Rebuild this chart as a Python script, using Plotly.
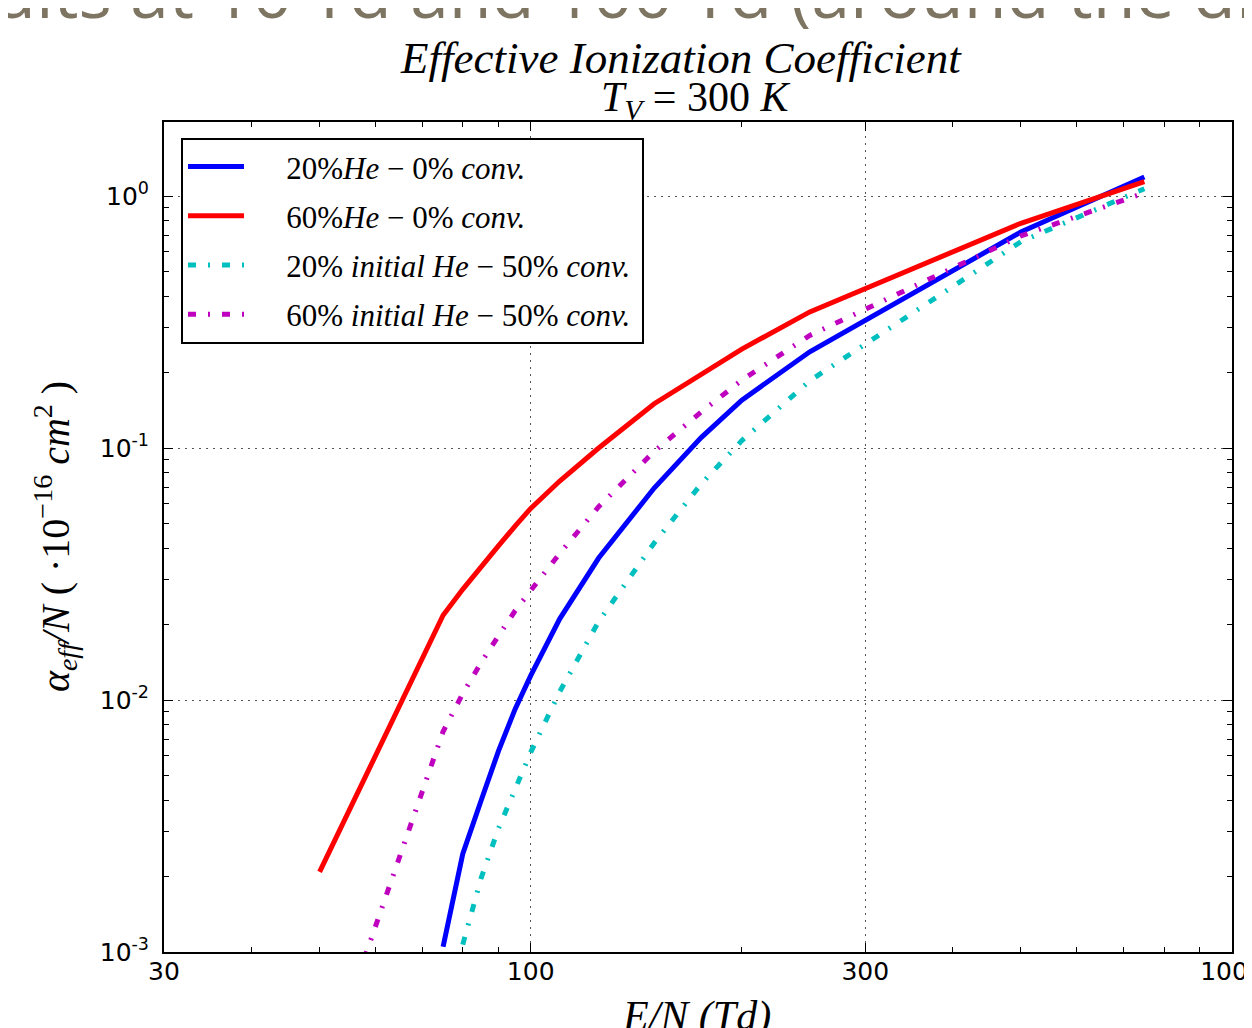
import plotly.graph_objects as go

# ---- data ----
en_blue = [75, 80, 85, 90, 95, 100, 110, 125, 150, 175, 200, 250, 500, 750]
alpha_blue = [0.00105, 0.00245, 0.0040, 0.0063, 0.0092, 0.0125, 0.021, 0.0366, 0.0694, 0.110, 0.155, 0.241, 0.72, 1.19]

en_red = [50, 75, 80, 85, 90, 95, 100, 110, 125, 150, 175, 200, 250, 500, 750]
alpha_red = [0.00208, 0.0217, 0.0275, 0.0340, 0.0410, 0.049, 0.0576, 0.074, 0.100, 0.150, 0.197, 0.247, 0.347, 0.78, 1.14]

en_cyan = [80, 85, 90, 95, 100, 110, 125, 150, 175, 200, 250, 500, 750]
alpha_cyan = [0.00107, 0.00197, 0.0031, 0.00446, 0.0062, 0.0108, 0.0205, 0.042, 0.072, 0.107, 0.185, 0.659, 1.07]

en_mag = [50, 75, 80, 85, 90, 95, 100, 110, 125, 150, 175, 200, 250, 500, 750]
alpha_mag = [0.00029, 0.0075, 0.0106, 0.0141, 0.018, 0.0226, 0.0272, 0.0382, 0.0585, 0.097, 0.139, 0.186, 0.28, 0.695, 1.03]

series_names = [
    "20%<i>He</i> − 0% <i>conv.</i>",
    "60%<i>He</i> − 0% <i>conv.</i>",
    "20% <i>initial He</i> − 50% <i>conv.</i>",
    "60% <i>initial He</i> − 50% <i>conv.</i>",
]

x_tickvals = [30, 100, 300, 1000]
x_ticktext = ["30", "100", "300", "1000"]
y_tickvals = [0.001, 0.01, 0.1, 1]
y_ticktext = ["10<sup>-3</sup>", "10<sup>-2</sup>", "10<sup>-1</sup>", "10<sup>0</sup>"]
x_minor = [40, 50, 60, 70, 80, 90, 200, 400, 500, 600, 700, 800, 900]
y_minor = [m * d for d in (0.001, 0.01, 0.1, 1) for m in range(2, 10)]

SERIF = "Liberation Serif"
SANS = "DejaVu Sans"
DASHDOT = "8px,12px,2px,12px"

fig = go.Figure()
specs = [
    (en_blue, alpha_blue, "#0000ff", "solid"),
    (en_red, alpha_red, "#ff0000", "solid"),
    (en_cyan, alpha_cyan, "#00bfbf", DASHDOT),
    (en_mag, alpha_mag, "#bf00bf", DASHDOT),
]
for i, ((xs, ys, col, dash), name) in enumerate(zip(specs, series_names)):
    fig.add_trace(go.Scatter(
        x=xs, y=ys, mode="lines", name="\u2002\u2002\u2009" + name + "\u2009",
        legendgroup=f"g{i}",
        line=dict(color=col, width=5, dash=dash),
    ))

axis_common = dict(
    type="log", showline=True, linecolor="black", linewidth=2, mirror="allticks",
    ticks="inside", ticklen=9, tickwidth=1.2, tickcolor="black",
    showgrid=True, gridcolor="#555555", gridwidth=1, griddash="2px,5px",
    zeroline=False, tickfont=dict(family=SANS, size=25, color="black"),
    tickmode="array", ticklabeloverflow="allow", automargin=False,
)
fig.update_xaxes(
    **axis_common, range=[1.4771, 3.0], tickvals=x_tickvals, ticktext=x_ticktext,
    ticklabelstandoff=-4,
    minor=dict(tickvals=x_minor, ticks="inside", ticklen=5, tickcolor="black", showgrid=False),
)
fig.update_yaxes(
    **axis_common, range=[-3.0, 0.294], tickvals=y_tickvals, ticktext=y_ticktext,
    ticklabelstandoff=8,
    minor=dict(tickvals=y_minor, ticks="inside", ticklen=5, tickcolor="black", showgrid=False),
)

fig.update_layout(
    width=1252, height=1028,
    margin=dict(l=156, r=28, t=114, b=84, autoexpand=False),
    paper_bgcolor="white", plot_bgcolor="white",
    showlegend=True,
    legend=dict(
        x=0.0159, y=0.981, xanchor="left", yanchor="top",
        bgcolor="white", bordercolor="black", borderwidth=2,
        font=dict(family=SERIF, size=31, color="black"),
        tracegroupgap=6, itemwidth=56,
    ),
    annotations=[
        dict(text="ults at 10 Td and 100 Td (around the di", xref="paper", yref="paper",
             x=-0.162, y=1.098, xanchor="left", yanchor="bottom", showarrow=False,
             font=dict(family="Open Sans", size=70, color="#7d7461")),
        dict(text="<i>Effective Ionization Coefficient</i>", xref="paper", yref="paper",
             x=0.484, y=1.077, xanchor="center", yanchor="middle", showarrow=False,
             font=dict(family=SERIF, size=45, color="black")),
        dict(text="<i>T</i><sub><i>V</i></sub> = 300 <i>K</i>", xref="paper", yref="paper",
             x=0.498, y=1.026, xanchor="center", yanchor="middle", showarrow=False,
             font=dict(family=SERIF, size=42, color="black")),
        dict(text="<i>E/N (Td)</i>", xref="paper", yref="paper",
             x=0.499, y=-0.078, xanchor="center", yanchor="middle", showarrow=False,
             font=dict(family=SERIF, size=42, color="black")),
        dict(text="<i>α<sub>eff</sub>/N</i> ( ·10<sup>−16</sup> <i>cm</i><sup>2</sup> )",
             xref="paper", yref="paper", x=-0.102, y=0.5, xanchor="center", yanchor="middle",
             textangle=-90, showarrow=False,
             font=dict(family=SERIF, size=40, color="black")),
    ],
)

fig.write_html("out.html")
